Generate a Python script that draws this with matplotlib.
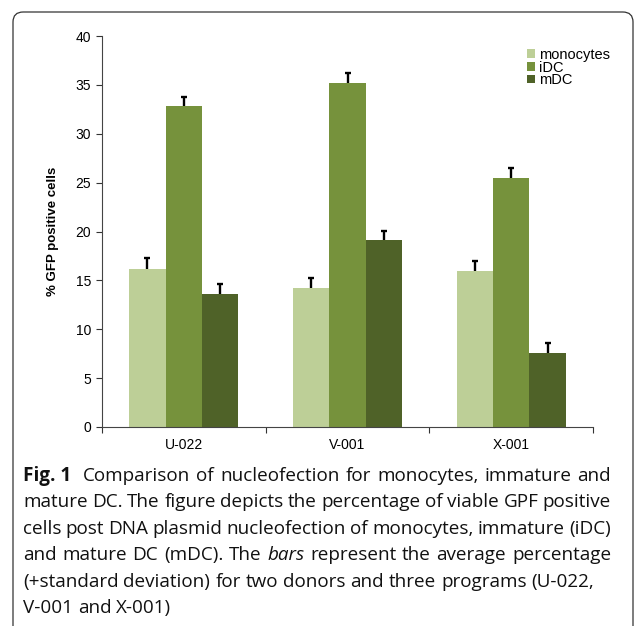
import numpy as np
import matplotlib
matplotlib.use("Agg")
import matplotlib.pyplot as plt
from matplotlib.patches import FancyBboxPatch

# Data
programs = ["U-022", "V-001", "X-001"]
monocytes = [16.2, 14.2, 16.0]
idc = [32.8, 35.2, 25.5]
mdc = [13.6, 19.1, 7.6]
monocytes_sd = [1.1, 1.0, 1.0]
idc_sd = [1.0, 1.0, 1.0]
mdc_sd = [1.0, 1.0, 1.0]

colors = ["#bdcf97", "#76923c", "#4f6228"]
labels = ["monocytes", "iDC", "mDC"]

W, H = 635, 626
fig = plt.figure(figsize=(W / 100, H / 100), dpi=100)

# rounded frame around figure + caption
frame = FancyBboxPatch((13 / W, -0.05), (633 - 13) / W, (1 - 12 / H) + 0.05,
                       boxstyle="round,pad=0,rounding_size=0.016",
                       transform=fig.transFigure, fill=False,
                       edgecolor="#333333", linewidth=0.9)
fig.patches.append(frame)

ax = fig.add_axes([102 / W, 1 - 427 / H, (593 - 102) / W, (427 - 36) / H])

x = np.arange(len(programs))
bw = 0.222
for i, (vals, sd) in enumerate([(monocytes, monocytes_sd), (idc, idc_sd), (mdc, mdc_sd)]):
    pos = x + (i - 1) * bw
    ax.bar(pos, vals, bw, color=colors[i], label=labels[i], zorder=2)
    eb = ax.errorbar(pos, vals, yerr=[np.zeros(len(sd)), sd], fmt="none",
                     ecolor="black", elinewidth=1.7, capsize=2.2, capthick=1.7, zorder=3)
    eb[1][0].set_visible(False)  # upper error only

ax.set_xlim(-0.5, 2.5)
ax.set_ylim(0, 40)
ax.set_yticks(range(0, 41, 5))
ax.set_xticks(x)
ax.set_xticklabels(programs)
ax.set_xticks([-0.5, 0.5, 1.5, 2.5], minor=True)
ax.tick_params(axis="x", which="major", length=0, pad=8)
ax.tick_params(axis="x", which="minor", length=4, width=0.8, color="#333333")
ax.tick_params(axis="y", length=4, width=0.8, color="#333333", pad=4)
for lab in ax.get_xticklabels() + ax.get_yticklabels():
    lab.set_fontfamily("Liberation Sans")
    lab.set_fontsize(10)
for s in ["top", "right"]:
    ax.spines[s].set_visible(False)
for s in ["left", "bottom"]:
    ax.spines[s].set_color("#444444")
    ax.spines[s].set_linewidth(0.8)

ax.set_ylabel("% GFP positive cells", fontfamily="Liberation Sans",
              fontweight="bold", fontsize=9.5, labelpad=12)

leg = ax.legend(loc="upper left", bbox_to_anchor=(527 / W, 1 - 48 / H),
                bbox_transform=fig.transFigure, frameon=False,
                prop={"family": "Liberation Sans", "size": 10.5},
                handlelength=0.55, handleheight=0.55, handletextpad=0.3,
                labelspacing=-0.1, borderaxespad=0, borderpad=0)

# caption, justified lines built word by word
cap_font = "Open Sans"
cap_size = 13.6
left, right = 23, 611
baseline0, step = 481, 26.4
lines = [
    [("Fig.\u00a01", "bold"), ("Comparison of nucleofection for monocytes, immature and", "normal")],
    [("mature DC. The figure depicts the percentage of viable GPF positive", "normal")],
    [("cells post DNA plasmid nucleofection of monocytes, immature (iDC)", "normal")],
    [("and mature DC (mDC). The", "normal"), ("bars", "italic"),
     ("represent the average percentage", "normal")],
    [("(+standard deviation) for two donors and three programs (U-022,", "normal")],
    [("V-001 and X-001)", "normal")],
]
justify = [True, True, True, True, False, False]

fig.canvas.draw()
renderer = fig.canvas.get_renderer()

def make_word(word, style, xpix, ypix):
    kw = dict(fontfamily=cap_font, fontsize=cap_size, va="baseline", ha="left", color="#111111")
    if style == "bold":
        kw["fontweight"] = "bold"
    if style == "italic":
        kw["fontstyle"] = "italic"
    return fig.text(xpix / W, 1 - ypix / H, word, **kw)

tmp = make_word("a a", "normal", 0, 0)
tmp2 = make_word("aa", "normal", 0, 0)
space_w = tmp.get_window_extent(renderer).width - tmp2.get_window_extent(renderer).width
tmp.remove()
tmp2.remove()

for li, (chunks, just) in enumerate(zip(lines, justify)):
    y = baseline0 + li * step
    words = []
    for text, style in chunks:
        for w in text.split(" "):
            words.append((w, style))
    items = [make_word(w, s, 0, y) for w, s in words]
    widths = [t.get_window_extent(renderer).width for t in items]
    gaps = [space_w] * (len(items) - 1)
    if li == 0:
        gaps[0] = space_w * 2.2
    if just:
        extra = (right - left) - sum(widths) - sum(gaps)
        gaps = [g + extra / len(gaps) for g in gaps]
    xp = left
    for t, w, g in zip(items, widths, gaps + [0]):
        t.set_x(xp / W)
        xp += w + g

fig.savefig("out.png", dpi=100)
